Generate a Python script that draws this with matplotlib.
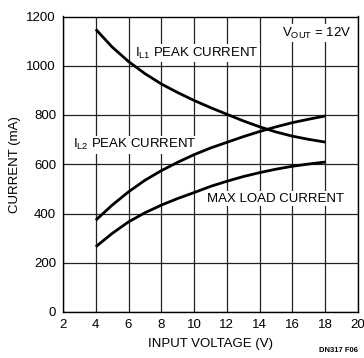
import matplotlib.pyplot as plt

plt.rcParams['font.family'] = ['Liberation Sans', 'DejaVu Sans']
plt.rcParams['mathtext.fontset'] = 'custom'
plt.rcParams['mathtext.rm'] = 'Liberation Sans'
plt.rcParams['mathtext.it'] = 'Liberation Sans'

# データ
vin = [4, 5, 6, 7, 8, 9, 10, 11, 12, 13, 14, 15, 16, 17, 18]
il1_peak = [1148, 1076, 1017, 968, 926, 891, 859, 830, 803, 776, 752, 731, 714, 701, 690]
il2_peak = [373, 434, 488, 535, 574, 608, 639, 666, 689, 712, 733, 752, 769, 783, 796]
max_load = [265, 319, 366, 403, 434, 461, 485, 510, 531, 550, 566, 580, 592, 601, 609]

fig = plt.figure(figsize=(3.64, 3.58), dpi=100)
ax = fig.add_axes([63 / 364, 1 - 312 / 358, 295 / 364, 295.5 / 358])
ax.set_axisbelow(True)

for y in [il1_peak, il2_peak, max_load]:
    ax.plot(vin, y, color='black', lw=2.0, solid_capstyle='butt', zorder=3)

ax.set_xlim(2, 20)
ax.set_ylim(0, 1200)
ax.set_xticks(range(2, 21, 2))
ax.set_yticks(range(0, 1201, 200))
ax.grid(True, color='#222222', lw=0.9)
ax.tick_params(length=0, labelsize=9.5, pad=5)
for s in ax.spines.values():
    s.set_linewidth(1.0)

ax.set_xlabel('INPUT VOLTAGE (V)', fontsize=9.5, labelpad=5)
ax.set_ylabel('CURRENT (mA)', fontsize=9.5, labelpad=4)

# ラベル
box = dict(facecolor='white', edgecolor='none', pad=1)
ax.text(6.4, 1050, r'I$_{\mathrm{L1}}$ PEAK CURRENT', fontsize=9.5,
        ha='left', va='center', bbox=box, zorder=2)
ax.text(2.6, 680, r'I$_{\mathrm{L2}}$ PEAK CURRENT', fontsize=9.5,
        ha='left', va='center', bbox=box, zorder=2)
ax.text(10.8, 460, 'MAX LOAD CURRENT', fontsize=9.5,
        ha='left', va='center', bbox=box, zorder=2)
ax.text(19.6, 1133, r'V$_{\mathrm{OUT}}$ = 12V', fontsize=9.5,
        ha='right', va='center', bbox=box, zorder=2)
fig.text(358 / 364, 1 - 351 / 358, 'DN317 F06', fontsize=5.5, fontweight='bold',
         ha='right', va='center')

fig.savefig('out.png', dpi=100)
